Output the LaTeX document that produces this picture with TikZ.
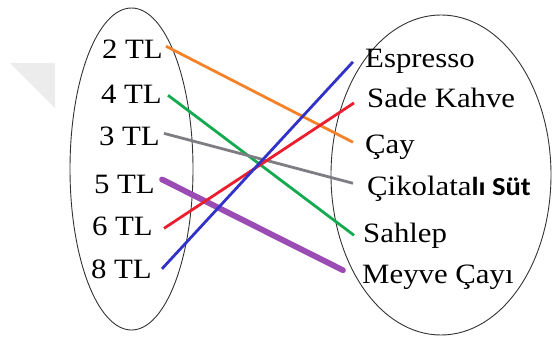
\documentclass[tikz,border=0pt]{standalone}
\usepackage{fontspec}
\usetikzlibrary{shapes.geometric}
\setmainfont{Liberation Serif}
\newfontfamily\sansf{Carlito}
\newcommand{\lbltxt}[1]{\scalebox{1.1}[1]{#1}}
\tikzset{
  set/.style={draw=black!80, line width=0.9pt},
  lab/.style={inner sep=0pt, font=\fontsize{28}{28}\selectfont},
  conn/.style={line width=2.8pt},
  thick conn/.style={line width=5.8pt, line cap=round},
}
\definecolor{cOrange}{RGB}{245,130,40}
\definecolor{cGreen}{RGB}{20,170,80}
\definecolor{cGray}{RGB}{125,125,130}
\definecolor{cPurple}{RGB}{155,75,180}
\definecolor{cRed}{RGB}{235,30,45}
\definecolor{cBlue}{RGB}{50,50,200}
\definecolor{wm}{RGB}{236,236,236}
\begin{document}
\begin{tikzpicture}[x=1pt,y=-1pt]
\useasboundingbox (0,0) rectangle (552,343);
\fill[wm] (10,63) -- (55,63) -- (55,108) -- cycle;
\node[set, ellipse, minimum width=123pt, minimum height=322pt, inner sep=0pt] (A) at (131.5,169) {};
\node[set, ellipse, minimum width=220pt, minimum height=320pt, inner sep=0pt] (B) at (441,175) {};
% left labels
\node[lab, anchor=base east] (l2) at (163,58) {\lbltxt{2 TL}};
\node[lab, anchor=base east] (l4) at (162,103) {\lbltxt{4 TL}};
\node[lab, anchor=base east] (l3) at (160,145) {\lbltxt{3 TL}};
\node[lab, anchor=base east] (l5) at (155,193) {\lbltxt{5 TL}};
\node[lab, anchor=base east] (l6) at (153,235) {\lbltxt{6 TL}};
\node[lab, anchor=base east] (l8) at (152,278) {\lbltxt{8 TL}};
% right labels
\node[lab, anchor=base west] (rEsp) at (365,67) {\lbltxt{Espresso}};
\node[lab, anchor=base west] (rSade) at (367,107) {\lbltxt{Sade Kahve}};
\node[lab, anchor=base west] (rCay) at (365,153) {\lbltxt{Çay}};
\node[lab, anchor=base west] (rCik) at (367,195) {\lbltxt{Çikolata{\sansf\bfseries\fontsize{26}{26}\selectfont lı Süt}}};
\node[lab, anchor=base west] (rSah) at (363,242) {\lbltxt{Sahlep}};
\node[lab, anchor=base west] (rMey) at (362,283) {\lbltxt{Meyve Çayı}};
% connectors
\draw[conn, cOrange] ([xshift=3pt,yshift=2.5pt]l2.east) -- ([xshift=-12pt,yshift=4.5pt]rCay.west);
\draw[conn, cGreen] ([xshift=6pt,yshift=-1.5pt]l4.east) -- ([xshift=-9pt]rSah.west);
\draw[conn, cGray] ([xshift=4pt,yshift=2.5pt]l3.east) -- ([xshift=-14pt,yshift=5pt]rCik.west);
\draw[thick conn, cPurple] ([xshift=7pt,yshift=4.5pt]l5.east) -- ([xshift=-19pt,yshift=6.5pt]rMey.west);
\draw[conn, cRed] ([xshift=11pt,yshift=-2.5pt]l6.east) -- ([xshift=-13pt,yshift=-5.5pt]rSade.west);
\draw[conn, cBlue] ([xshift=10pt]l8.east) -- ([xshift=-12pt,yshift=-1pt]rEsp.west);
\end{tikzpicture}
\end{document}
